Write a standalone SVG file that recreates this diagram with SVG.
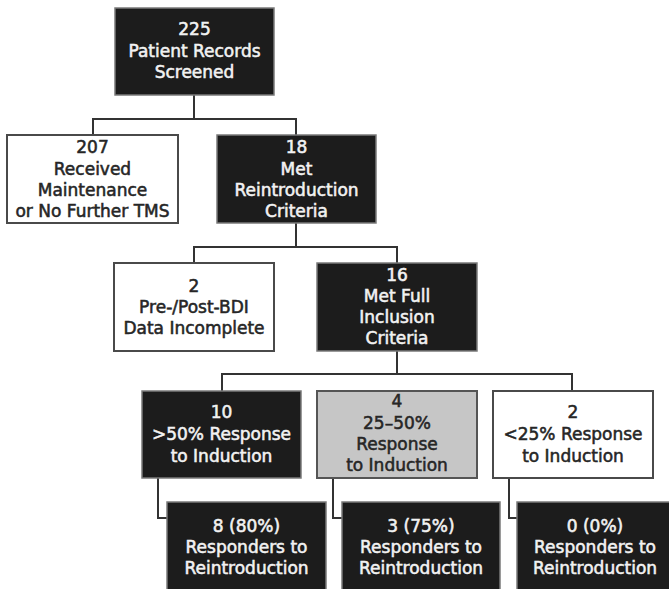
<svg xmlns="http://www.w3.org/2000/svg" width="669" height="589" viewBox="0 0 669 589">
  <style>
    .dark rect { fill: #1c1c1c; stroke: #7a7a7a; stroke-width: 1.5; }
    .light rect { fill: #ffffff; stroke: #4a4a4a; stroke-width: 2; }
    .gray rect { fill: #c6c6c6; stroke: #555555; stroke-width: 2; }
    text { font-family: "DejaVu Sans", "Liberation Sans", sans-serif; font-size: 17px; text-anchor: middle; stroke-width: 0.55; }
    .dark text { fill: #f2f2f2; stroke: #f2f2f2; }
    .light text, .gray text { fill: #262626; stroke: #262626; }
    .conn { fill: none; stroke: #333333; stroke-width: 2; }
  </style>
  <rect width="669" height="589" fill="#ffffff"/>

  <g id="connectors" class="conn">
    <path d="M194,95 V119 M93,135 V119 H296 V135"/>
    <path d="M296,223 V247 M194,263 V247 H397 V263"/>
    <path d="M397,351 V374 M222,391 V374 H572 V391"/>
    <path d="M158,478 V518 H167"/>
    <path d="M333,478 V518 H342"/>
    <path d="M509,478 V518 H517"/>
  </g>

  <g id="n225" class="dark">
    <rect x="115" y="8" width="159" height="87"/>
    <text x="194.5" y="35">225</text>
    <text x="194.5" y="57">Patient Records</text>
    <text x="194.5" y="78">Screened</text>
  </g>

  <g id="n207" class="light">
    <rect x="7" y="135" width="171" height="88"/>
    <text x="92.5" y="153">207</text>
    <text x="92.5" y="175">Received</text>
    <text x="92.5" y="196">Maintenance</text>
    <text x="92.5" y="217">or No Further TMS</text>
  </g>

  <g id="n18" class="dark">
    <rect x="217" y="135" width="159" height="88"/>
    <text x="296.5" y="153">18</text>
    <text x="296.5" y="175">Met</text>
    <text x="296.5" y="196">Reintroduction</text>
    <text x="296.5" y="217">Criteria</text>
  </g>

  <g id="n2a" class="light">
    <rect x="114" y="263" width="160" height="88"/>
    <text x="194" y="292">2</text>
    <text x="194" y="313">Pre-/Post-BDI</text>
    <text x="194" y="334">Data Incomplete</text>
  </g>

  <g id="n16" class="dark">
    <rect x="317" y="263" width="160" height="88"/>
    <text x="397" y="281">16</text>
    <text x="397" y="302">Met Full</text>
    <text x="397" y="323">Inclusion</text>
    <text x="397" y="344">Criteria</text>
  </g>

  <g id="n10" class="dark">
    <rect x="142" y="391" width="159" height="87"/>
    <text x="221.5" y="418">10</text>
    <text x="221.5" y="440">&gt;50% Response</text>
    <text x="221.5" y="462">to Induction</text>
  </g>

  <g id="n4" class="gray">
    <rect x="317" y="391" width="160" height="87"/>
    <text x="397" y="407">4</text>
    <text x="397" y="429">25–50%</text>
    <text x="397" y="450">Response</text>
    <text x="397" y="471">to Induction</text>
  </g>

  <g id="n2b" class="light">
    <rect x="493" y="391" width="160" height="87"/>
    <text x="573" y="418">2</text>
    <text x="573" y="440">&lt;25% Response</text>
    <text x="573" y="462">to Induction</text>
  </g>

  <g id="r8" class="dark">
    <rect x="167" y="502" width="159" height="100"/>
    <text x="246.5" y="532">8 (80%)</text>
    <text x="246.5" y="553">Responders to</text>
    <text x="246.5" y="574">Reintroduction</text>
  </g>

  <g id="r3" class="dark">
    <rect x="342" y="502" width="158" height="100"/>
    <text x="421" y="532">3 (75%)</text>
    <text x="421" y="553">Responders to</text>
    <text x="421" y="574">Reintroduction</text>
  </g>

  <g id="r0" class="dark">
    <rect x="517" y="502" width="160" height="100"/>
    <text x="595" y="532">0 (0%)</text>
    <text x="595" y="553">Responders to</text>
    <text x="595" y="574">Reintroduction</text>
  </g>
</svg>
